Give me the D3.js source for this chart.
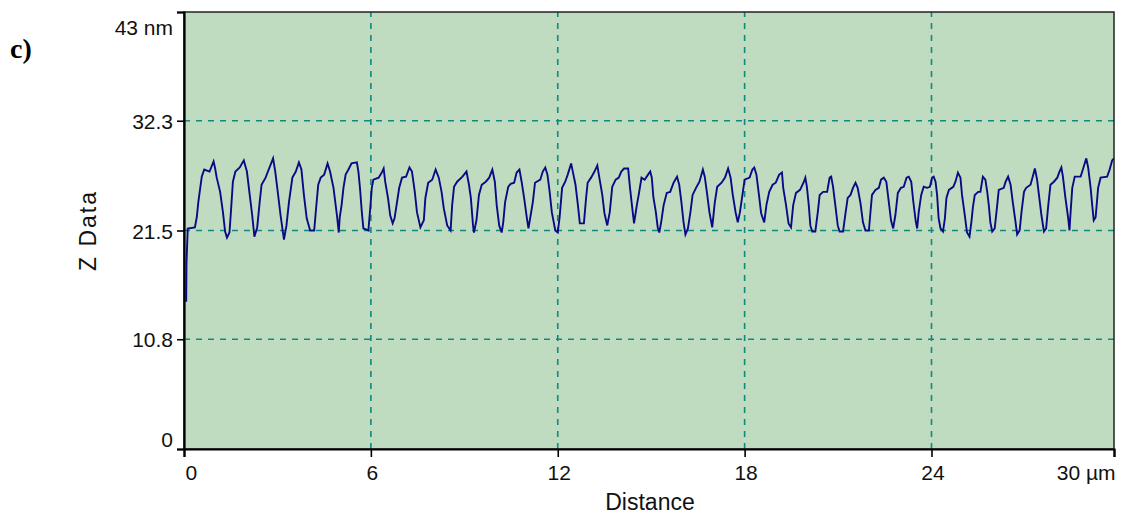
<!DOCTYPE html>
<html>

<head>
    <meta charset="utf-8">
    <title>Z Data profile</title>
    <style>
        body { margin: 0; background: #fff; }
        text { font-family: "Liberation Sans", Arial, sans-serif; }
    </style>
</head>

<body>
    <svg class="profile"></svg>
    <script src="https://cdn.jsdelivr.net/npm/d3@7/dist/d3.min.js"></script>
    <script>
        // profile, distance in µm, height in nm
        const distance = [
            0.07, 0.08, 0.12, 0.35, 0.41, 0.46, 0.57, 0.65, 0.82, 0.95, 1.00, 1.05, 1.16, 1.25, 1.32, 1.38, 1.46, 1.51, 1.57, 1.65,
            1.79, 1.92, 2.02, 2.11, 2.19, 2.26, 2.35, 2.43, 2.49, 2.62, 2.72, 2.86, 2.93, 3.01, 3.10, 3.21, 3.29, 3.37, 3.48, 3.59,
            3.69, 3.77, 3.85, 3.94, 4.05, 4.18, 4.23, 4.31, 4.39, 4.50, 4.61, 4.69, 4.80, 4.91,
            4.97, 5.00, 5.06, 5.12, 5.19, 5.28, 5.38, 5.55, 5.60, 5.65, 5.71, 5.76, 5.92, 5.98, 6.03, 6.08, 6.25, 6.35, 6.41, 6.46,
            6.55, 6.62, 6.70, 6.76, 6.84, 6.91, 7.00, 7.13, 7.24, 7.32, 7.41, 7.48, 7.59, 7.70, 7.75, 7.84, 7.97, 8.08, 8.18, 8.27,
            8.34, 8.45, 8.56, 8.61, 8.67, 8.77, 8.94, 9.07, 9.15, 9.21, 9.28, 9.31, 9.39, 9.47, 9.56, 9.69, 9.80, 9.90,
            9.98, 10.04, 10.12, 10.20, 10.25, 10.31, 10.41, 10.49, 10.60, 10.68, 10.77, 10.84, 10.92, 11.01, 11.06, 11.13, 11.20,
            11.27, 11.44, 11.52, 11.60, 11.67, 11.74, 11.81, 11.92, 12.00, 12.06, 12.14, 12.24, 12.32, 12.43, 12.49, 12.57, 12.64,
            12.71, 12.84, 12.91, 12.96, 13.07, 13.18, 13.27, 13.33, 13.43, 13.50, 13.59, 13.67, 13.75, 13.86, 13.96, 14.04, 14.13,
            14.26, 14.32, 14.40, 14.45, 14.54, 14.61, 14.69, 14.79,
            14.90, 14.97, 15.02, 15.07, 15.15, 15.21, 15.26, 15.32, 15.40, 15.50, 15.61, 15.72, 15.83, 15.90, 15.97, 16.04, 16.10,
            16.18, 16.26, 16.33, 16.44, 16.55, 16.66, 16.72, 16.80, 16.87, 16.96, 17.04, 17.12, 17.26, 17.37, 17.47, 17.55, 17.62,
            17.71, 17.78, 17.85, 17.93, 18.00, 18.16, 18.25, 18.31, 18.38, 18.46, 18.53, 18.63, 18.70, 18.79, 18.90, 19.00, 19.11,
            19.20, 19.24, 19.33, 19.41, 19.49, 19.56, 19.65, 19.78, 19.89,
            19.95, 20.00, 20.06, 20.11, 20.17, 20.27, 20.35, 20.41, 20.52, 20.65, 20.73, 20.78, 20.84, 20.92, 20.99, 21.05, 21.16,
            21.24, 21.31, 21.40, 21.48, 21.56, 21.63, 21.72, 21.80, 21.88, 21.99, 22.04, 22.09, 22.20, 22.31, 22.38, 22.47, 22.55,
            22.63, 22.70, 22.77, 22.84, 22.92, 23.02, 23.11, 23.20, 23.27, 23.35, 23.41, 23.49, 23.54, 23.59, 23.67, 23.75, 23.86,
            23.95, 24.02, 24.07, 24.13, 24.18, 24.23, 24.29, 24.37, 24.43, 24.48, 24.56, 24.70, 24.77, 24.85,
            24.93, 24.98, 25.07, 25.14, 25.22, 25.28, 25.33, 25.39, 25.50, 25.57, 25.65, 25.73, 25.79, 25.84, 25.89, 25.95, 26.03,
            26.11, 26.16, 26.32, 26.38, 26.46, 26.54, 26.61, 26.70, 26.75, 26.83, 26.89, 26.97, 27.04, 27.18, 27.25, 27.32, 27.39,
            27.45, 27.53, 27.61, 27.68, 27.75, 27.82, 27.93, 28.04, 28.11, 28.17, 28.22, 28.30, 28.39, 28.43, 28.46, 28.52, 28.60,
            28.79, 28.86, 28.97, 29.03, 29.11, 29.16, 29.21, 29.27, 29.35, 29.43, 29.64, 29.72, 29.80, 29.86
        ]
        const zData = [
            14.5, 18.3, 21.7, 21.8, 22.8, 24.3, 26.8, 27.5, 27.3, 28.3, 27.6, 26.7, 25.3, 23.3, 21.4, 20.8, 21.3, 23.5, 26.3, 27.3,
            27.7, 28.4, 27.3, 25.0, 23.0, 20.9, 21.8, 24.3, 26.0, 26.7, 27.5, 28.6, 27.3, 25.3, 23.0, 20.6, 22.0, 24.3, 26.7, 27.3,
            28.2, 27.5, 25.0, 22.7, 21.5, 21.5, 23.3, 26.0, 26.7, 27.0, 28.1, 27.3, 25.7, 23.0,
            21.3, 22.8, 24.0, 25.7, 27.0, 27.5, 28.1, 28.2, 27.3, 25.7, 23.3, 21.7, 21.5, 23.7, 25.7, 26.5, 26.7, 27.2, 27.6, 26.3,
            24.7, 23.0, 22.2, 22.7, 24.3, 25.7, 26.7, 26.8, 27.7, 27.3, 25.3, 23.3, 21.8, 22.5, 24.7, 26.2, 26.5, 27.5, 26.7, 25.3,
            23.7, 22.0, 21.5, 24.0, 25.8, 26.3, 26.8, 27.3, 26.0, 24.7, 22.0, 21.3, 22.5, 25.0, 26.0, 26.3, 26.7, 27.5,
            26.3, 24.0, 22.0, 21.3, 22.3, 24.3, 25.8, 26.1, 26.2, 27.2, 27.5, 26.3, 24.7, 22.7, 21.7, 23.0, 24.3,
            26.2, 26.5, 27.3, 27.7, 27.0, 25.3, 23.3, 21.5, 21.3, 22.8, 25.7, 26.3, 27.0, 28.1, 27.2, 26.0, 24.2,
            22.2, 22.2, 24.7, 26.2, 26.7, 27.3, 27.9, 26.8, 25.0, 23.2, 22.0, 23.3, 25.8, 26.5, 26.7, 27.3, 27.6,
            27.6, 25.7, 23.5, 22.2, 24.0, 25.2, 26.7, 26.5,
            27.0, 27.3, 26.7, 24.8, 23.3, 21.8, 21.3, 22.3, 24.0, 25.2, 25.3, 26.2, 26.8, 26.0, 24.3, 22.3, 21.1,
            21.7, 23.3, 25.0, 25.7, 26.3, 27.5, 26.8, 25.0, 23.3, 21.8, 24.2, 25.8, 26.2, 26.7, 27.6, 26.7, 25.0,
            23.3, 22.3, 23.3, 25.0, 26.5, 26.7, 27.5, 27.7, 27.0, 25.0, 23.2, 22.3, 24.0, 25.3, 26.0, 26.2, 27.0,
            27.2, 25.7, 24.0, 22.2, 21.8, 24.0, 25.2, 25.5, 26.2,
            26.7, 25.8, 24.0, 22.0, 21.4, 21.4, 23.3, 25.0, 25.3, 25.3, 26.7, 26.8, 25.8, 23.8, 22.0, 21.4, 21.4,
            23.2, 24.7, 25.0, 25.7, 26.2, 25.7, 24.2, 22.3, 21.5, 21.5, 23.3, 25.0, 25.5, 25.7, 26.5, 26.7, 26.3,
            24.3, 22.5, 21.7, 23.0, 25.2, 25.7, 25.8, 26.7, 26.8, 26.3, 24.5, 22.5, 21.7, 23.3, 25.0, 25.8, 25.7,
            25.8, 26.7, 26.8, 26.3, 25.0, 22.7, 21.7, 21.4, 22.7, 24.7, 25.5, 25.8, 26.3, 27.2,
            26.7, 25.0, 23.0, 21.3, 20.9, 22.3, 23.8, 25.0, 25.3, 25.3, 26.8, 26.5, 25.3, 24.0, 22.3, 21.4, 21.7,
            24.0, 25.5, 25.7, 26.3, 26.8, 26.0, 24.3, 22.3, 21.1, 21.5, 23.3, 25.3, 25.7, 26.0, 26.8, 27.6, 26.5,
            25.0, 23.0, 21.4, 21.7, 24.0, 26.0, 26.3, 26.7, 27.3, 27.7, 26.8, 24.7, 22.7, 21.5, 23.0, 25.7, 26.8,
            26.8, 27.5, 28.6, 27.7, 25.7, 24.0, 22.5, 22.8, 25.7, 26.7, 26.8, 27.5, 28.4, 28.6
        ]

        const yTicks = [0, 10.8, 21.5, 32.3, 43]
        const yTickLabels = ["0", "10.8", "21.5", "32.3", "43 nm"]
        const xTicks = [0, 6, 12, 18, 24]
        const xMax = 29.86          // scan length, labelled "30 µm" at the axis end
        const xEndLabel = "30 µm"
        const yMax = 43

        var width = 1122, height = 518
        const margin = { left: 184, right: 8, top: 12, bottom: 69 }

        var svg = d3.select(".profile")
            .attr("width", width)
            .attr("height", height)

        var xScale = d3.scaleLinear()
            .domain([0, xMax])
            .range([margin.left, width - margin.right])

        var yScale = d3.scaleLinear()
            .domain([0, yMax])
            .range([height - margin.bottom, margin.top])

        const x0 = xScale(0), x1 = xScale(xMax), y0 = yScale(0), y1 = yScale(yMax)

        // plot background
        svg.append("rect")
            .attr("x", x0)
            .attr("y", y1)
            .attr("width", x1 - x0)
            .attr("height", y0 - y1)
            .attr("fill", "#c0dcc0")

        // dashed grid
        svg.append("g")
            .selectAll("line")
            .data(yTicks.slice(1, -1))
            .enter()
            .append("line")
            .attr("x1", x0).attr("x2", x1)
            .attr("y1", d => yScale(d)).attr("y2", d => yScale(d))
            .attr("stroke", "#12877f")
            .attr("stroke-width", 1.6)
            .attr("stroke-dasharray", "6,6")

        svg.append("g")
            .selectAll("line")
            .data(xTicks.slice(1))
            .enter()
            .append("line")
            .attr("x1", d => xScale(d)).attr("x2", d => xScale(d))
            .attr("y1", y0).attr("y2", y1)
            .attr("stroke", "#12877f")
            .attr("stroke-width", 1.6)
            .attr("stroke-dasharray", "6,6")

        // profile line
        var line = d3.line()
            .x((d, i) => xScale(distance[i]))
            .y(d => yScale(d))

        svg.append("path")
            .datum(zData)
            .attr("d", line)
            .attr("fill", "none")
            .attr("stroke", "#0a0a86")
            .attr("stroke-width", 1.9)
            .attr("stroke-linejoin", "miter")

        // frame
        svg.append("rect")
            .attr("x", x0)
            .attr("y", y1)
            .attr("width", x1 - x0)
            .attr("height", y0 - y1)
            .attr("fill", "none")
            .attr("stroke", "#222")
            .attr("stroke-width", 1.5)

        // y axis
        var yAxis = d3.axisLeft(yScale)
            .tickValues(yTicks)
            .tickSize(7)
            .tickPadding(4)
            .tickFormat((d, i) => yTickLabels[i])

        var gy = svg.append("g")
            .attr("transform", `translate(${x0}, 0)`)
            .call(yAxis)
        gy.select(".domain").attr("stroke", "#000").attr("stroke-width", 2.2)
        gy.selectAll(".tick line").attr("stroke", "#000").attr("stroke-width", 1.6)
        gy.selectAll(".tick text")
            .attr("fill", "#111")
            .style("font-size", "21px")
            .attr("dy", (d, i) => i === 0 ? "-0.12em" : (i === yTicks.length - 1 ? "1.05em" : "0.36em"))

        // x axis
        var xAxis = d3.axisBottom(xScale)
            .tickValues(xTicks.concat([xMax]))
            .tickSize(8)
            .tickPadding(8)
            .tickFormat((d, i) => i === xTicks.length ? xEndLabel : d3.format("d")(d))

        var gx = svg.append("g")
            .attr("transform", `translate(0, ${y0})`)
            .call(xAxis)
        gx.select(".domain").attr("stroke", "#000").attr("stroke-width", 2.2)
        gx.selectAll(".tick line").attr("stroke", "#000").attr("stroke-width", 1.6)
        gx.selectAll(".tick text")
            .attr("fill", "#111")
            .style("font-size", "21px")
            .attr("text-anchor", (d, i) => i === 0 ? "start" : (i === xTicks.length ? "end" : "middle"))
            .attr("x", 1)

        // axis titles
        svg.append("text")
            .attr("x", (x0 + x1) / 2 + 1)
            .attr("y", 510)
            .attr("text-anchor", "middle")
            .style("font-size", "23px")
            .attr("fill", "#111")
            .text("Distance")

        svg.append("text")
            .attr("transform", `translate(96, ${(y0 + y1) / 2}) rotate(-90)`)
            .attr("text-anchor", "middle")
            .style("font-size", "23px")
            .style("letter-spacing", "2px")
            .attr("fill", "#111")
            .text("Z Data")

        // panel letter
        svg.append("text")
            .attr("x", 10)
            .attr("y", 58)
            .style("font-family", "'Liberation Serif', 'Times New Roman', serif")
            .style("font-size", "28px")
            .style("font-weight", "bold")
            .text("c)")
    </script>
</body>

</html>
